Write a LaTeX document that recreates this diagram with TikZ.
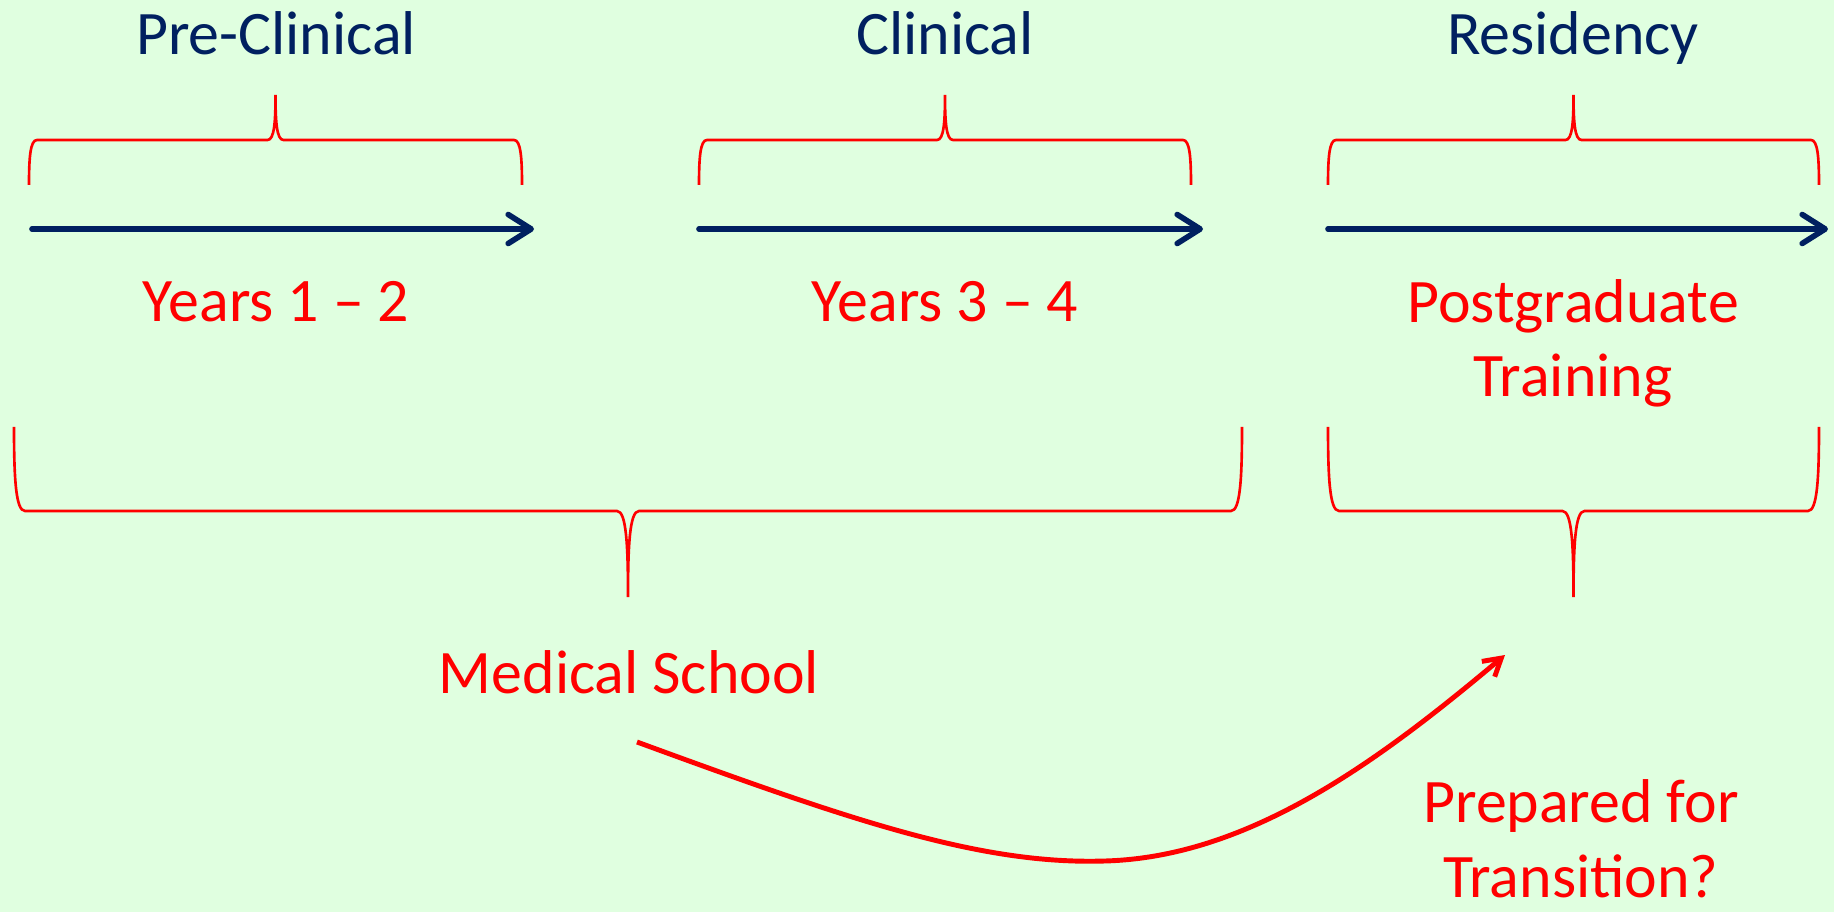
\documentclass[tikz,border=0pt]{standalone}
\usepackage{fontspec}
\setmainfont{Carlito}
\usepackage{xcolor}
\usepackage{tikz}
\usetikzlibrary{arrows.meta,positioning}
\definecolor{navy}{HTML}{002060}
\definecolor{brightred}{HTML}{FF0000}
\definecolor{mint}{HTML}{E0FFE0}
\tikzset{
  phase/.style={text=navy, font=\fontsize{17.6}{21.3}\selectfont, inner sep=0pt},
  period/.style={text=brightred, align=center, font=\fontsize{17.6}{21.3}\selectfont, inner sep=0pt},
  timeline/.style={-{Straight Barb[length=2.3mm, width=2.9mm, round]}, line width=1.6pt, draw=navy, line cap=round},
  curly/.style={draw=brightred, line width=0.75pt},
  transit/.style={-{Straight Barb[length=1.7mm, width=2mm]}, line width=1.4pt, draw=brightred}
}
% left x, right x, end y, bar y, tip y, curl size
\newcommand{\drawbrace}[6]{%
  \draw[curly] (#1,#3) .. controls (#1,{#4+0.4*(#3-#4)}) and ({#1+0.15*#6},#4) .. ({#1+#6},#4)
    -- ({(#1+#2)/2-#6},#4) .. controls ({(#1+#2)/2-0.15*#6},#4) and ({(#1+#2)/2},{#4+0.4*(#5-#4)}) .. ({(#1+#2)/2},#5)
    .. controls ({(#1+#2)/2},{#4+0.4*(#5-#4)}) and ({(#1+#2)/2+0.15*#6},#4) .. ({(#1+#2)/2+#6},#4)
    -- ({#2-#6},#4) .. controls ({#2-0.15*#6},#4) and (#2,{#4+0.4*(#3-#4)}) .. (#2,#3);}

\begin{document}
\begin{tikzpicture}[x=0.1mm, y=-0.1mm]
  \fill[mint] (0,0) rectangle (1834,912);
  \useasboundingbox (0,0) rectangle (1834,912);

  % phase titles
  \node[phase, anchor=base] (preclin) at (276,55) {Pre-Clinical};
  \node[phase, anchor=base] (clin) at (945,55) {Clinical};
  \node[phase, anchor=base] (resid) at (1573,55) {Residency};

  \drawbrace{29}{522}{185}{140}{95}{8}
  \drawbrace{699}{1191}{185}{140}{95}{8}
  \drawbrace{1328}{1819}{185}{140}{95}{8}

  % time lines
  \coordinate (prestart) at (32,229);
  \coordinate (preend) at (534,229);
  \coordinate (clinstart) at (699,229);
  \coordinate (clinend) at (1203,229);
  \coordinate (resstart) at (1328,229);
  \coordinate (resend) at (1828,229);
  \draw[timeline] (prestart) -- (preend);
  \draw[timeline] (clinstart) -- (clinend);
  \draw[timeline] (resstart) -- (resend);

  \node[period, anchor=base] (years12) at (276,322) {Years 1 – 2};
  \node[period, anchor=base] (years34) at (945,322) {Years 3 – 4};
  \node[period, anchor=base] (postgrad) at (1573,397) {Postgraduate\\Training};

  \drawbrace{14}{1242}{427}{511}{597}{11}
  \drawbrace{1328}{1819}{427}{511}{597}{11}

  \node[period, anchor=base] (medschool) at (629,693) {Medical School};
  \node[period, anchor=base] (prepared) at (1581,897) {Prepared for\\Transition?};

  \coordinate (bendstart) at (637,742);
  \coordinate (bendend) at (1505,655);
  \draw[transit] (bendstart) .. controls (850,820) and (980,865) .. (1105,861)
    .. controls (1250,857) and (1380,760) .. (bendend);
\end{tikzpicture}
\end{document}
